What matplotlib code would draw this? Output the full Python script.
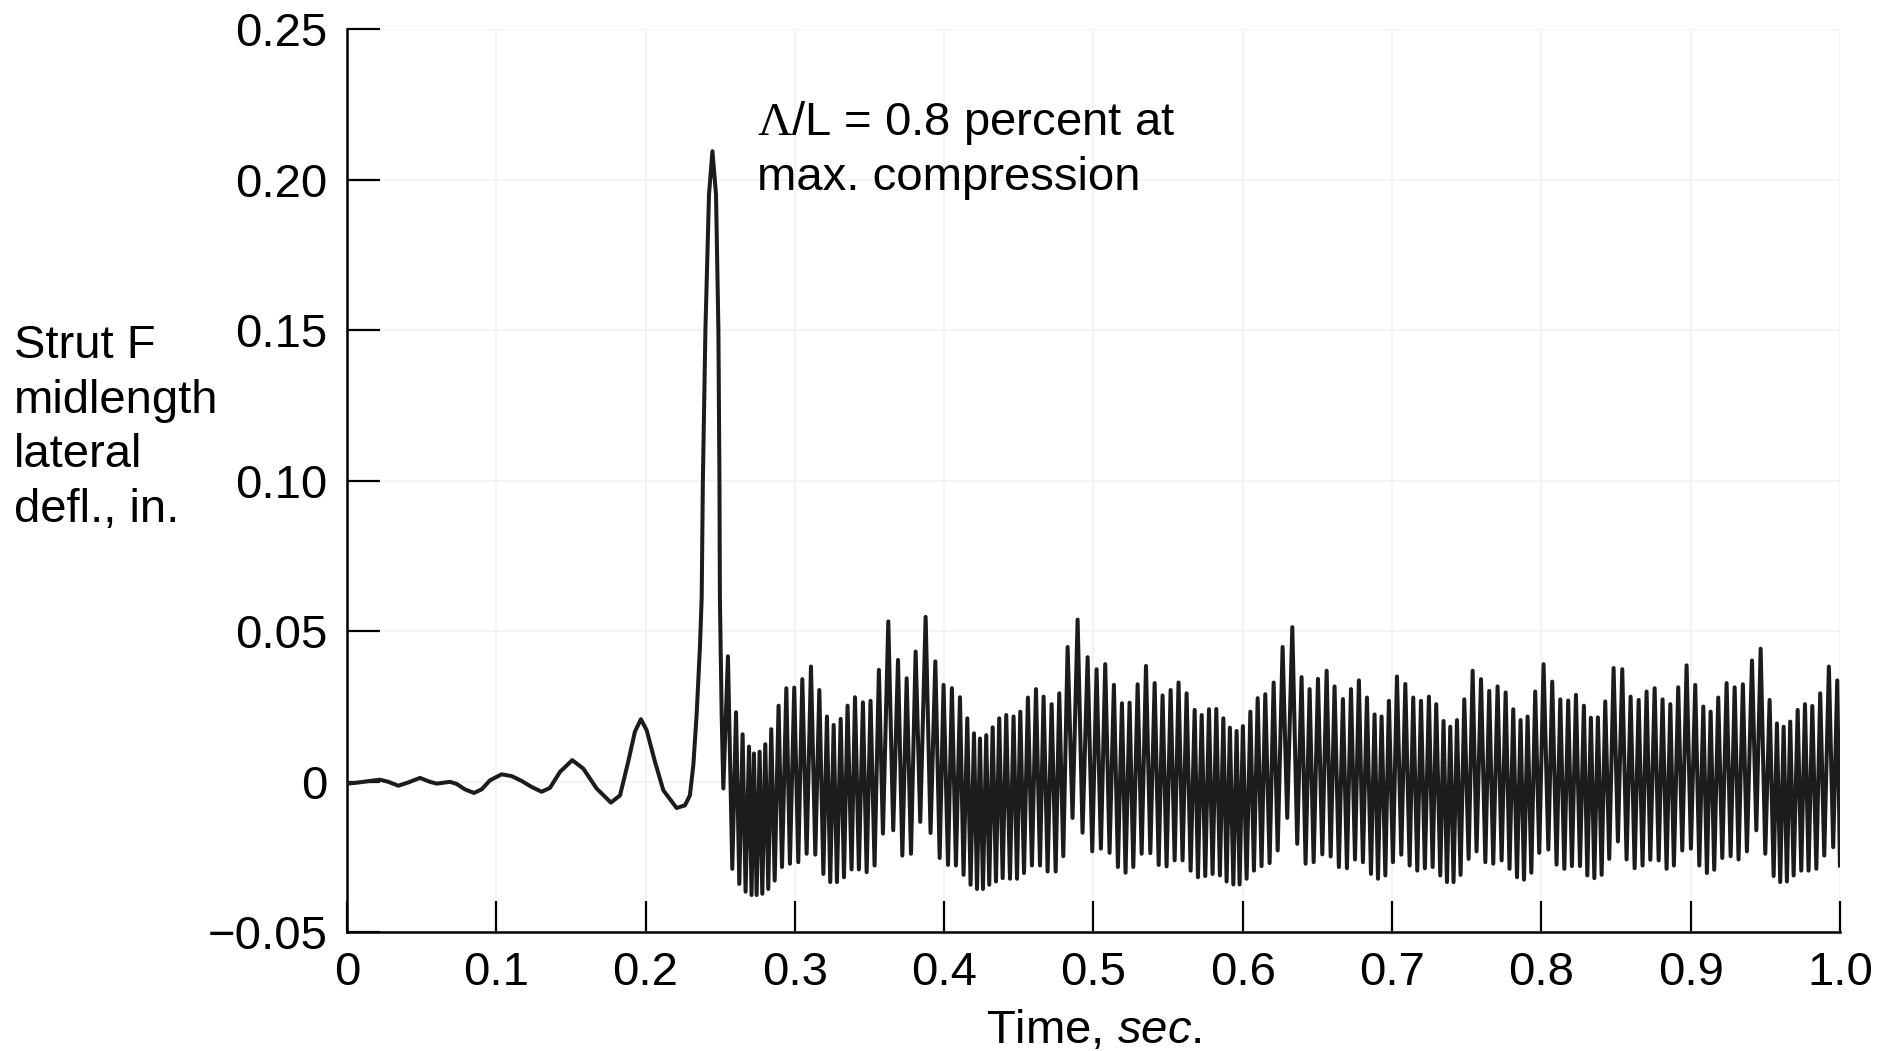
import numpy as np
import matplotlib
matplotlib.use("Agg")
import matplotlib.pyplot as plt

# slow part of the response, up to the big compression peak
pre_t = [0.0, 0.0065, 0.0154, 0.0221, 0.0277, 0.0344, 0.0411, 0.0489, 0.0556, 0.0601,
         0.0645, 0.0690, 0.0735, 0.0790, 0.0851, 0.0902, 0.0958, 0.1036, 0.1103, 0.1170,
         0.1237, 0.1304, 0.1360, 0.1427, 0.1509, 0.1583, 0.1672, 0.1768, 0.1829, 0.1884,
         0.1929, 0.1969, 0.2007, 0.2063, 0.2119, 0.2208, 0.2264, 0.2297, 0.2320, 0.2342,
         0.2364, 0.2376, 0.2384, 0.2401, 0.2425, 0.2448, 0.2472, 0.2488, 0.2495, 0.2498,
         0.2503, 0.2510, 0.2521]
pre_v = [-0.0007, -0.0004, 0.0002, 0.0006, -0.0001, -0.0014, -0.0003, 0.0012, -0.0001, -0.0007,
         -0.0004, -0.0001, -0.0008, -0.0026, -0.0038, -0.0026, 0.0004, 0.0024, 0.0018, 0.0002,
         -0.0018, -0.0034, -0.0021, 0.0032, 0.0071, 0.0043, -0.0023, -0.0070, -0.0046, 0.0066,
         0.0166, 0.0207, 0.0171, 0.0066, -0.0029, -0.0088, -0.0079, -0.0046, 0.0054, 0.0221,
         0.0443, 0.0610, 0.1000, 0.1500, 0.1950, 0.2094, 0.1950, 0.1500, 0.1000, 0.0610,
         0.0443, 0.0220, -0.0023]

# peaks and troughs of the fast oscillation after the peak
osc_t = [0.2552, 0.2581, 0.2606, 0.2628, 0.2650, 0.2670, 0.2693, 0.2710, 0.2726, 0.2744,
         0.2764, 0.2782, 0.2802, 0.2822, 0.2842, 0.2865, 0.2891, 0.2914, 0.2943, 0.2967,
         0.2996, 0.3023, 0.3050, 0.3079, 0.3108, 0.3137, 0.3164, 0.3191, 0.3215, 0.3237,
         0.3260, 0.3282, 0.3307, 0.3329, 0.3353, 0.3380, 0.3403, 0.3429, 0.3456, 0.3481,
         0.3507, 0.3534, 0.3563, 0.3590, 0.3626, 0.3659, 0.3691, 0.3720,
         0.3749, 0.3778, 0.3809, 0.3840, 0.3876, 0.3909, 0.3941, 0.3970, 0.3996, 0.4026,
         0.4052, 0.4079, 0.4106, 0.4130, 0.4155, 0.4177, 0.4200, 0.4220, 0.4240, 0.4260,
         0.4282, 0.4302, 0.4325, 0.4347, 0.4369, 0.4392, 0.4416, 0.4441, 0.4465, 0.4488,
         0.4510, 0.4535, 0.4561, 0.4588, 0.4615, 0.4642, 0.4666, 0.4693, 0.4720, 0.4747,
         0.4771, 0.4798, 0.4827, 0.4860, 0.4894, 0.4927, 0.4961, 0.4992,
         0.5021, 0.5050, 0.5079, 0.5108, 0.5137, 0.5164, 0.5191, 0.5215, 0.5242, 0.5267,
         0.5296, 0.5323, 0.5352, 0.5381, 0.5410, 0.5437, 0.5463, 0.5490, 0.5517, 0.5544,
         0.5570, 0.5597, 0.5624, 0.5651, 0.5678, 0.5700, 0.5725, 0.5749, 0.5774, 0.5798,
         0.5823, 0.5847, 0.5870, 0.5892, 0.5914, 0.5937, 0.5959, 0.5979, 0.6001, 0.6026,
         0.6051, 0.6075, 0.6100, 0.6126, 0.6151, 0.6180, 0.6207, 0.6234, 0.6267,
         0.6298, 0.6332, 0.6365, 0.6394, 0.6421, 0.6448, 0.6475, 0.6504, 0.6533, 0.6562,
         0.6589, 0.6615, 0.6644, 0.6671, 0.6698, 0.6725, 0.6752, 0.6778, 0.6805, 0.6832,
         0.6859, 0.6883, 0.6906, 0.6930, 0.6955, 0.6979, 0.7006, 0.7033, 0.7062, 0.7089,
         0.7118, 0.7142, 0.7169, 0.7194, 0.7220, 0.7247, 0.7272, 0.7296, 0.7323, 0.7345,
         0.7368, 0.7390, 0.7412, 0.7435, 0.7459, 0.7484, 0.7513, 0.7540,
         0.7566, 0.7596, 0.7625, 0.7651, 0.7678, 0.7707, 0.7734, 0.7761, 0.7787, 0.7812,
         0.7837, 0.7861, 0.7884, 0.7908, 0.7933, 0.7959, 0.7986, 0.8015, 0.8047, 0.8073,
         0.8102, 0.8127, 0.8154, 0.8180, 0.8205, 0.8232, 0.8259, 0.8285, 0.8308, 0.8332,
         0.8355, 0.8379, 0.8404, 0.8428, 0.8455, 0.8484, 0.8513, 0.8542, 0.8571, 0.8598,
         0.8625, 0.8652, 0.8678, 0.8705, 0.8730, 0.8759, 0.8786, 0.8812,
         0.8839, 0.8864, 0.8888, 0.8917, 0.8944, 0.8973, 0.9002, 0.9031, 0.9058, 0.9085,
         0.9109, 0.9134, 0.9158, 0.9185, 0.9212, 0.9241, 0.9268, 0.9295, 0.9321, 0.9350,
         0.9377, 0.9411, 0.9440, 0.9469, 0.9500, 0.9529, 0.9556, 0.9578, 0.9600, 0.9623,
         0.9645, 0.9667, 0.9690, 0.9717, 0.9741, 0.9766, 0.9790, 0.9815, 0.9842, 0.9868,
         0.9895, 0.9926, 0.9955, 0.9982, 1.0000]
osc_v = [0.0416, -0.0290, 0.0230, -0.0340, 0.0157, -0.0366, 0.0116, -0.0377, 0.0093, -0.0377,
         0.0099, -0.0373, 0.0124, -0.0357, 0.0174, -0.0329, 0.0252, -0.0284, 0.0310, -0.0273,
         0.0312, -0.0268, 0.0340, -0.0240, 0.0382, -0.0243, 0.0304, -0.0307, 0.0216, -0.0334,
         0.0188, -0.0334, 0.0208, -0.0318, 0.0252, -0.0292, 0.0280, -0.0292, 0.0263, -0.0301,
         0.0268, -0.0279, 0.0371, -0.0173, 0.0532, -0.0162, 0.0404, -0.0246,
         0.0343, -0.0240, 0.0432, -0.0134, 0.0547, -0.0171, 0.0399, -0.0254, 0.0321, -0.0277,
         0.0310, -0.0279, 0.0280, -0.0310, 0.0210, -0.0343, 0.0160, -0.0357, 0.0143, -0.0357,
         0.0154, -0.0343, 0.0180, -0.0332, 0.0210, -0.0321, 0.0221, -0.0323, 0.0216, -0.0323,
         0.0232, -0.0304, 0.0279, -0.0279, 0.0307, -0.0279, 0.0282, -0.0299, 0.0257, -0.0299,
         0.0293, -0.0248, 0.0447, -0.0121, 0.0538, -0.0170, 0.0413, -0.0232,
         0.0373, -0.0223, 0.0390, -0.0237, 0.0321, -0.0284, 0.0260, -0.0303, 0.0262, -0.0284,
         0.0323, -0.0240, 0.0384, -0.0238, 0.0327, -0.0277, 0.0286, -0.0282, 0.0304, -0.0262,
         0.0329, -0.0262, 0.0293, -0.0296, 0.0238, -0.0318, 0.0221, -0.0314, 0.0240, -0.0307,
         0.0241, -0.0312, 0.0210, -0.0332, 0.0179, -0.0342, 0.0168, -0.0342, 0.0184, -0.0323,
         0.0232, -0.0296, 0.0277, -0.0281, 0.0290, -0.0271, 0.0329, -0.0229, 0.0447,
         -0.0121, 0.0513, -0.0207, 0.0347, -0.0273, 0.0307, -0.0268, 0.0341, -0.0242, 0.0368,
         -0.0249, 0.0316, -0.0284, 0.0274, -0.0288, 0.0307, -0.0259, 0.0336, -0.0268, 0.0279,
         -0.0307, 0.0223, -0.0323, 0.0216, -0.0312, 0.0268, -0.0268, 0.0349, -0.0243, 0.0324,
         -0.0279, 0.0279, -0.0296, 0.0268, -0.0288, 0.0282, -0.0284, 0.0257, -0.0312, 0.0201,
         -0.0334, 0.0182, -0.0334, 0.0204, -0.0310, 0.0273, -0.0257, 0.0368,
         -0.0232, 0.0340, -0.0268, 0.0301, -0.0273, 0.0316, -0.0262, 0.0296, -0.0290, 0.0240,
         -0.0318, 0.0204, -0.0326, 0.0216, -0.0303, 0.0299, -0.0237, 0.0390, -0.0226, 0.0332,
         -0.0276, 0.0273, -0.0290, 0.0269, -0.0281, 0.0288, -0.0281, 0.0252, -0.0312, 0.0212,
         -0.0321, 0.0213, -0.0310, 0.0266, -0.0257, 0.0377, -0.0199, 0.0373, -0.0259, 0.0282,
         -0.0288, 0.0271, -0.0279, 0.0299, -0.0260, 0.0310, -0.0262, 0.0273,
         -0.0290, 0.0257, -0.0279, 0.0313, -0.0229, 0.0386, -0.0223, 0.0321, -0.0279, 0.0249,
         -0.0304, 0.0232, -0.0293, 0.0279, -0.0254, 0.0327, -0.0248, 0.0313, -0.0259, 0.0323,
         -0.0232, 0.0402, -0.0162, 0.0441, -0.0240, 0.0271, -0.0314, 0.0193, -0.0334, 0.0182,
         -0.0332, 0.0199, -0.0312, 0.0238, -0.0296, 0.0257, -0.0296, 0.0251, -0.0290, 0.0293,
         -0.0246, 0.0382, -0.0218, 0.0336, -0.0279]

x_ticks = [0, 0.1, 0.2, 0.3, 0.4, 0.5, 0.6, 0.7, 0.8, 0.9, 1.0]
x_labels = ["0", "0.1", "0.2", "0.3", "0.4", "0.5", "0.6", "0.7", "0.8", "0.9", "1.0"]
y_ticks = [-0.05, 0, 0.05, 0.10, 0.15, 0.20, 0.25]
y_labels = ["\u22120.05", "0", "0.05", "0.10", "0.15", "0.20", "0.25"]

y_title = "Strut F\nmidlength\nlateral\ndefl., in."
note = "$\\mathcal{\\Lambda}$/L = 0.8 percent at\nmax. compression"


def main():
    plt.rcParams['font.family'] = ['Liberation Sans', 'DejaVu Sans']
    plt.rcParams['mathtext.fontset'] = 'custom'
    plt.rcParams['mathtext.rm'] = 'Liberation Sans'
    plt.rcParams['mathtext.it'] = 'Liberation Sans:italic'
    plt.rcParams['mathtext.cal'] = 'Liberation Serif'

    t = np.array(pre_t + osc_t)
    v = np.array(pre_v + osc_v)

    fig = plt.figure(figsize=(18.98, 10.51), dpi=100)
    ax = fig.add_axes([0.1828, 0.1132, 0.7866, 0.8592])

    ax.plot(t, v, color='#1c1c1c', lw=2.9, solid_joinstyle='round', zorder=3)

    ax.set_xlim(0, 1.0)
    ax.set_ylim(-0.05, 0.25)
    ax.set_xticks(x_ticks)
    ax.set_xticklabels(x_labels)
    ax.set_yticks(y_ticks)
    ax.set_yticklabels(y_labels)
    ax.tick_params(axis='x', direction='in', length=22, width=1.6, labelsize=34, pad=14)
    ax.tick_params(axis='y', direction='in', length=24, width=1.6, labelsize=34, pad=14)
    ax.grid(True, color='#f2f2f2', lw=1.2, zorder=0)

    for s in ['top', 'right']:
        ax.spines[s].set_visible(False)
    for s in ['left', 'bottom']:
        ax.spines[s].set_linewidth(1.8)

    ax.set_xlabel(r"Time, $\mathit{sec.}$", fontsize=34, labelpad=10)
    fig.text(14 / 1898, 1 - 428 / 1051, y_title, fontsize=34, ha='left', va='center',
             multialignment='left', linespacing=1.31)
    ax.text(0.2746, 0.2099, note, fontsize=34, ha='left', va='center', linespacing=1.27)

    fig.savefig("out.png", dpi=100)


if __name__ == "__main__":
    main()
